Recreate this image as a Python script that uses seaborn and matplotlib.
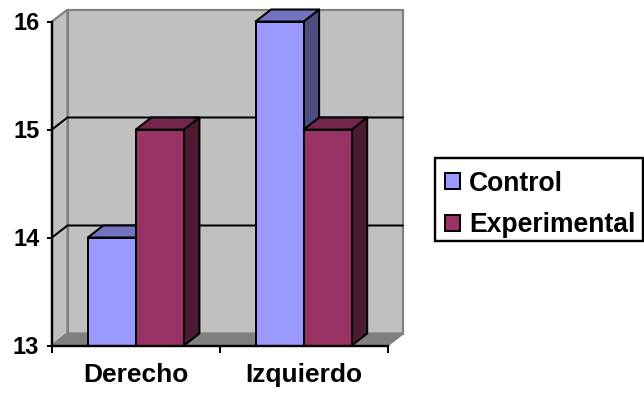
import matplotlib
matplotlib.use("Agg")
import matplotlib.pyplot as plt
from matplotlib.patches import Polygon, Rectangle
import pandas as pd
import seaborn as sns

categories = ["Derecho", "Izquierdo"]
series_names = ["Control", "Experimental"]
control_values = [14, 16]
experimental_values = [15, 15]
y_ticks = [13, 14, 15, 16]

front_colors = {"Control": "#9999FF", "Experimental": "#993366"}
top_colors = {"Control": "#7373BF", "Experimental": "#73264D"}
side_colors = {"Control": "#4D4D80", "Experimental": "#4D1A33"}

W, H = 644, 395
PX = 72 / 100

sns.set_theme(style="white", rc={"font.family": ["Liberation Sans", "DejaVu Sans"]})

fig = plt.figure(figsize=(W / 100, H / 100), dpi=100, facecolor="white")
ax = fig.add_axes([52 / W, 1 - 345.5 / H, 335.5 / W, 324 / H])

df = pd.DataFrame({
    "lado": categories * 2,
    "grupo": [series_names[0]] * 2 + [series_names[1]] * 2,
    "valor": control_values + experimental_values,
})

sns.barplot(data=df, x="lado", y="valor", hue="grupo", hue_order=series_names,
            palette=front_colors, saturation=1, width=0.573, gap=0,
            edgecolor="black", linewidth=2 * PX, ax=ax)

x0, x1 = -0.5, 1.5
y0, y1 = y_ticks[0], y_ticks[-1]
ax.set_xlim(x0, x1)
ax.set_ylim(y0, y1)
ax.set_facecolor("none")

# Oblique depth of the box, in data units
ddx = 15.5 / (335.5 / 2)
ddy = 12 / 108

wall_kw = dict(clip_on=False, joinstyle="miter", linewidth=2.2 * PX, zorder=0.2)
ax.add_patch(Polygon([(x0, y0), (x0, y1), (x0 + ddx, y1 + ddy), (x0 + ddx, y0 + ddy)],
                     facecolor="#C0C0C0", edgecolor="#808080", **wall_kw))
ax.add_patch(Polygon([(x0 + ddx, y0 + ddy), (x0 + ddx, y1 + ddy),
                      (x1 + ddx, y1 + ddy), (x1 + ddx, y0 + ddy)],
                     facecolor="#C0C0C0", edgecolor="#808080", **wall_kw))
ax.add_patch(Polygon([(x0, y0), (x1, y0), (x1 + ddx, y0 + ddy), (x0 + ddx, y0 + ddy)],
                     facecolor="#808080", edgecolor="#808080", **wall_kw))

# Gridlines wrap from the side wall onto the back wall
for v in y_ticks[1:-1]:
    ax.plot([x0, x0 + ddx, x1 + ddx], [v, v + ddy, v + ddy], color="black",
            linewidth=2 * PX, clip_on=False, zorder=0.4)

# Each bar gets its side and top faces, painted just under its own front face
for s, (name, container) in enumerate(zip(series_names, ax.containers)):
    for c, bar in enumerate(container):
        value = bar.get_height()
        left = bar.get_x()
        right = left + bar.get_width()
        bar.set_y(y0)
        bar.set_height(value - y0)
        bar.set_clip_on(False)
        z = 1 + s + 0.1 * c
        bar.set_zorder(z + 0.02)
        face_kw = dict(edgecolor="black", linewidth=2 * PX, clip_on=False,
                       joinstyle="round", zorder=z)
        ax.add_patch(Polygon([(right, y0), (right, value), (right + ddx, value + ddy),
                              (right + ddx, y0 + ddy)],
                             facecolor=side_colors[name], **face_kw))
        ax.add_patch(Polygon([(left, value), (right, value), (right + ddx, value + ddy),
                              (left + ddx, value + ddy)],
                             facecolor=top_colors[name], **face_kw))

ax.set_xlabel("")
ax.set_ylabel("")
ax.set_yticks(y_ticks)
ax.set_xticks([0, 1], categories)
ax.set_xticks([x0, 0.5, x1], minor=True)
for side in ("top", "right"):
    ax.spines[side].set_visible(False)
for side in ("left", "bottom"):
    ax.spines[side].set_color("black")
    ax.spines[side].set_linewidth(2.4 * PX)
    ax.spines[side].set_zorder(6)
ax.tick_params(axis="y", left=True, length=5 * PX, width=2 * PX, color="black",
               labelsize=17, pad=5.5)
ax.tick_params(axis="x", which="major", bottom=False, length=0, labelsize=19, pad=12.5)
ax.tick_params(axis="x", which="minor", bottom=True, length=7 * PX, width=2 * PX, color="black")
for label in ax.get_xticklabels() + ax.get_yticklabels():
    label.set_fontweight("bold")
    label.set_color("black")

# Legend frame is its own rectangle so the entries can sit low inside it
fig.add_artist(Rectangle((435 / W, 1 - 241 / H), 207.5 / W, 83 / H,
                         transform=fig.transFigure, facecolor="white", edgecolor="black",
                         linewidth=2.4 * PX, zorder=-1))
handles, labels = ax.get_legend_handles_labels()
ax.legend(handles, labels, loc="center left",
          bbox_to_anchor=(436.7 / W, 1 - 204.5 / H), bbox_transform=fig.transFigure,
          frameon=False, prop={"weight": "bold", "size": 19.1},
          handlelength=0.566, handleheight=0.566,
          handletextpad=0.34, labelspacing=0.6, borderpad=0.32, borderaxespad=0)
for text in ax.get_legend().get_texts():
    text.set_color("black")

fig.savefig("out.png", dpi=100, facecolor="white")
